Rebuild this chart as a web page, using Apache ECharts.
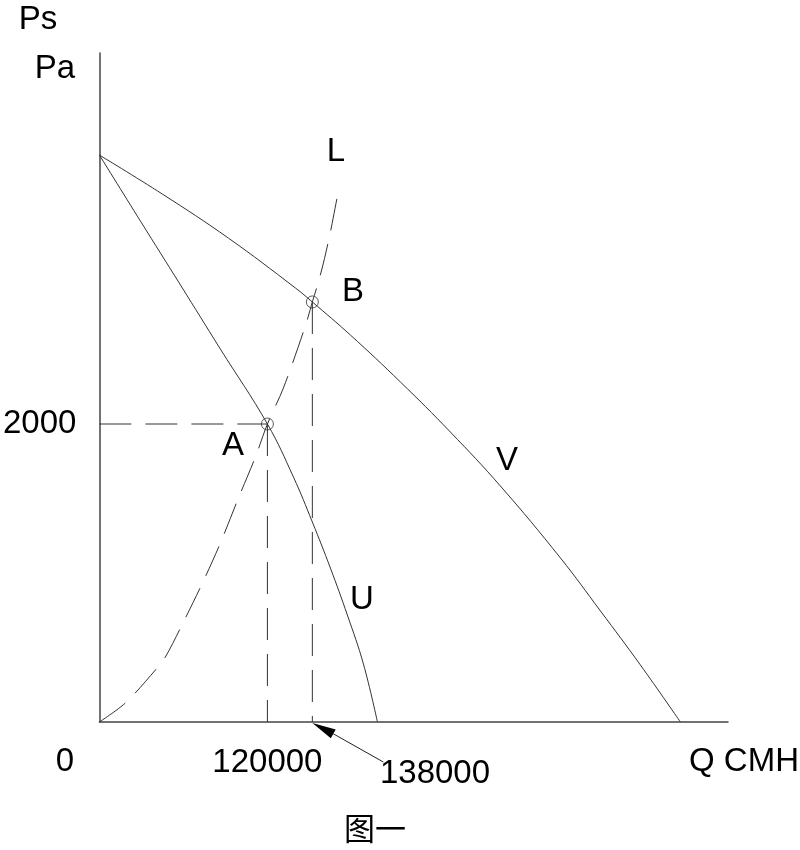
<!DOCTYPE html>
<html>
<head>
<meta charset="utf-8">
<script src="https://cdn.jsdelivr.net/npm/echarts@6/dist/echarts.min.js"></script>
<style>html,body{margin:0;padding:0;background:#fff}#c{width:800px;height:850px}</style>
</head>
<body>
<div id="c"></div>
<script>
// Fan curve V (high speed): [Q CMH, Ps Pa]
var curveV = [[0,3805],[45000,3543],[92100,3248],[140000,2913],[152100,2819],[179300,2597],[215000,2282],[250700,1946],[286400,1584],[329300,1101],[357900,745],[386400,383],[415000,0]];
// Fan curve U (low speed)
var curveU = [[0,3805],[29300,3362],[57900,2933],[86400,2503],[120000,2000],[138600,1644],[152100,1342],[165000,1033],[177100,718],[188600,389],[198600,0]];
// System curve L
var curveL = [[0,0],[18600,128],[40000,349],[47100,436],[57900,631],[73600,933],[86400,1201],[99300,1503],[111400,1778],[120000,2000],[131400,2241],[147100,2658],[152100,2819],[156400,2953],[160000,3080],[165000,3288],[167100,3389],[171400,3597]];
// Operating points
var pointA = [120000, 2000];
var pointB = [152100, 2819];
// Tick labels
var xTickLabel = 120000;
var yTickLabel = 2000;
var annotB = '138000';

var chart = echarts.init(document.getElementById('c'));
var FONT = "'Liberation Sans', Arial, sans-serif";
var FS = 33;
var lineCol = '#333';
var dashStyle = {color: '#333', width: 1, type: [32, 14]};

chart.setOption({
  animation: false,
  backgroundColor: '#fff',
  grid: {left: 99, top: 53, right: 72, bottom: 128, containLabel: false},
  xAxis: {
    type: 'value', min: 0, max: 449000, interval: 120000,
    axisLine: {show: true, lineStyle: {color: '#444', width: 1.5}},
    axisTick: {show: false}, splitLine: {show: false},
    axisLabel: {show: true, margin: 24, color: '#000', fontFamily: FONT, fontSize: FS,
      showMinLabel: false, showMaxLabel: false,
      formatter: function (v) { return v === xTickLabel ? String(xTickLabel) : ''; }}
  },
  yAxis: {
    type: 'value', min: 0, max: 4490, interval: 2000,
    axisLine: {show: true, lineStyle: {color: '#444', width: 1.5}},
    axisTick: {show: false}, splitLine: {show: false},
    axisLabel: {show: true, margin: 23, color: '#000', fontFamily: FONT, fontSize: FS,
      showMinLabel: false, showMaxLabel: false,
      formatter: function (v) { return v === yTickLabel ? String(yTickLabel) : ''; }}
  },
  series: [
    {type: 'line', data: curveV, showSymbol: false, smooth: 0.4, lineStyle: {color: lineCol, width: 1}},
    {type: 'line', data: curveU, showSymbol: false, smooth: 0.4, lineStyle: {color: lineCol, width: 1}},
    {type: 'line', data: curveL, showSymbol: false, smooth: 0.3, lineStyle: dashStyle},
    {type: 'line', data: [[0, pointA[1]], pointA], showSymbol: false, lineStyle: dashStyle},
    {type: 'line', data: [pointA, [pointA[0], 0]], showSymbol: false, lineStyle: dashStyle},
    {type: 'line', data: [pointB, [pointB[0], 0]], showSymbol: false, lineStyle: dashStyle},
    {type: 'scatter', data: [pointA, pointB], symbol: 'circle', symbolSize: 12,
      itemStyle: {color: 'rgba(255,255,255,0)', borderColor: '#333', borderWidth: 1}, z: 5}
  ]
});

var tip = chart.convertToPixel({gridIndex: 0}, [pointB[0], 0]);
var txt = function (t, x, y, opts) {
  return {type: 'text', x: x, y: y, style: Object.assign({text: t, fill: '#000', font: FS + 'px ' + FONT, align: 'center', verticalAlign: 'middle'}, opts || {})};
};
var tail = [tip[0] + 71, tip[1] + 40];
var ang = Math.atan2(tail[1] - tip[1], tail[0] - tip[0]);
var hl = 24, hw = 5;
var bx = tip[0] + Math.cos(ang) * hl, by = tip[1] + Math.sin(ang) * hl;
var px = -Math.sin(ang) * hw, py = Math.cos(ang) * hw;

chart.setOption({
  graphic: [
    txt('Ps', 38, 20),
    txt('Pa', 55, 69),
    txt('L', 336, 152),
    txt('B', 353, 292),
    txt('A', 233, 446),
    txt('V', 507, 461),
    txt('U', 362, 600),
    txt('0', 65, 762),
    txt('Q CMH', 744, 762),
    txt(annotB, 435, 774),
    txt('图一', 375, 828, {font: '31px "Noto Sans CJK SC", sans-serif'}),
    {type: 'line', shape: {x1: bx, y1: by, x2: tail[0], y2: tail[1]}, style: {stroke: '#222', lineWidth: 1}},
    {type: 'polygon', shape: {points: [[tip[0], tip[1] + 1], [bx + px, by + py], [bx - px, by - py]]}, style: {fill: '#000'}}
  ]
});
</script>
</body>
</html>
